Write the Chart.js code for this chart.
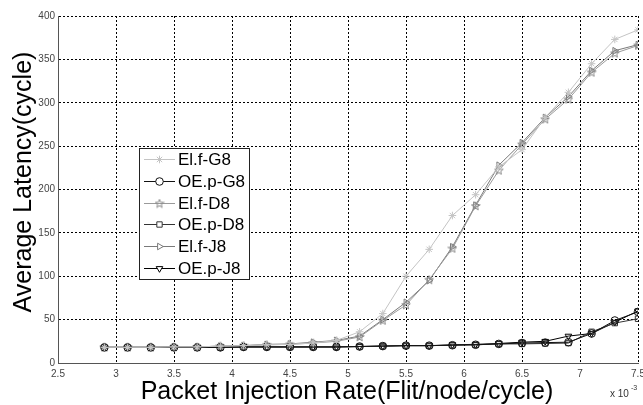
<!DOCTYPE html>
<html>
<head>
<meta charset="utf-8">
<script src="https://cdn.jsdelivr.net/npm/chart.js@4/dist/chart.umd.min.js"></script>
<style>
  html, body { margin: 0; padding: 0; background: #fff; }
  #wrap { width: 643px; height: 405px; position: relative; }
</style>
</head>
<body>
<div id="wrap"><canvas id="latencyChart"></canvas></div>
<script>
// injection rate, in units of 1e-3 flit/node/cycle
const rates = [2.9, 3.1, 3.3, 3.5, 3.7, 3.9, 4.1, 4.3, 4.5, 4.7, 4.9, 5.1,
               5.3, 5.5, 5.7, 5.9, 6.1, 6.3, 6.5, 6.7, 6.9, 7.1, 7.3, 7.5];

const elfG8 = [18, 18, 18, 18.5, 18.5, 19.5, 20, 21, 21.5, 23, 26, 36,
               57, 100, 131, 170, 194, 226, 246, 283, 312, 345, 373, 384];
const oepG8 = [18, 18, 18, 18, 18, 18, 18.5, 18.5, 18.5, 18.5, 18.5, 19,
               19.5, 20, 20, 20.5, 21, 22, 23, 23.5, 24, 34, 49, 59];
const elfD8 = [18, 18, 18, 18.5, 18.5, 19.5, 20, 21, 21.5, 23, 25, 30,
               49, 67, 96, 132, 181, 222, 252, 281, 304, 335, 357, 366];
const oepD8 = [18, 18, 18, 18, 18, 18, 18.5, 18.5, 18.5, 18.5, 18.5, 19,
               19.5, 20, 20, 20.5, 21, 22, 22, 22.5, 23, 36, 46, 51];
const elfJ8 = [18, 18, 18, 18.5, 18.5, 19.5, 20, 21.5, 22, 24, 26, 31,
               50, 70, 95, 134, 182, 228, 254, 283, 307, 337, 360, 367];
const oepJ8 = [18, 18, 18, 18, 18, 18, 18.5, 18.5, 18.5, 18.5, 18.5, 19,
               19.5, 20, 20, 21, 21.5, 22.5, 24, 25, 31, 34, 47, 60];

const seriesNames = ['El.f-G8', 'OE.p-G8', 'El.f-D8', 'OE.p-D8', 'El.f-J8', 'OE.p-J8'];
const xTicks = [2.5, 3, 3.5, 4, 4.5, 5, 5.5, 6, 6.5, 7, 7.5];
const yTicks = [0, 50, 100, 150, 200, 250, 300, 350, 400];
const xTitle = 'Packet Injection Rate(Flit/node/cycle)';
const yTitle = 'Average Latency(cycle)';

const FONT = "'Liberation Sans', Arial, sans-serif";

// pentagram marker (no built-in one in Chart.js)
function makePentagram(color) {
    const c = document.createElement('canvas');
    c.width = 10; c.height = 10;
    const g = c.getContext('2d');
    g.strokeStyle = color;
    g.lineWidth = 1;
    g.beginPath();
    for (let i = 0; i < 10; i++) {
        const r = i % 2 === 0 ? 4.5 : 1.9;
        const a = -Math.PI / 2 + i * Math.PI / 5;
        const px = 5 + r * Math.cos(a), py = 5.3 + r * Math.sin(a);
        if (i === 0) g.moveTo(px, py); else g.lineTo(px, py);
    }
    g.closePath();
    g.stroke();
    return c;
}

function series(label, values, color, style, rotation) {
    return {
        label: label,
        data: rates.map((r, i) => ({ x: r, y: values[i] })),
        borderColor: color,
        backgroundColor: color,
        borderWidth: 1,
        pointStyle: style,
        pointRotation: rotation || 0,
        pointRadius: 3.8,
        pointBorderColor: color,
        pointBackgroundColor: 'rgba(0,0,0,0)',
        pointBorderWidth: 1,
        tension: 0
    };
}

const datasets = [
    series(seriesNames[0], elfG8, '#c4c4c4', 'star'),
    series(seriesNames[1], oepG8, '#111111', 'circle'),
    series(seriesNames[2], elfD8, '#9a9a9a', makePentagram('#8a8a8a')),
    series(seriesNames[3], oepD8, '#333333', 'rect'),
    series(seriesNames[4], elfJ8, '#7a7a7a', 'triangle', 90),
    series(seriesNames[5], oepJ8, '#000000', 'triangle', 180)
];

// legend box inside the plot, axis titles and the exponent note
const boxLegend = {
    id: 'boxLegend',
    afterDraw(chart) {
        const ctx = chart.ctx;
        const left = 139, top = 148, right = 249, bottom = 279;
        ctx.save();
        ctx.fillStyle = '#fff';
        ctx.fillRect(left, top, right - left, bottom - top);
        ctx.strokeStyle = '#222';
        ctx.lineWidth = 1;
        ctx.strokeRect(left + 0.5, top + 0.5, right - left, bottom - top);
        const rowH = (bottom - top) / 6;
        chart.data.datasets.forEach((ds, i) => {
            const cy = Math.round(top + rowH * (i + 0.5)) + 0.5;
            ctx.strokeStyle = ds.borderColor;
            ctx.lineWidth = 1;
            ctx.beginPath();
            ctx.moveTo(144, cy);
            ctx.lineTo(175, cy);
            ctx.stroke();
            if (Chart.helpers && Chart.helpers.drawPoint) {
                ctx.fillStyle = '#fff';
                ctx.strokeStyle = ds.borderColor;
                Chart.helpers.drawPoint(ctx, {
                    pointStyle: ds.pointStyle,
                    rotation: ds.pointRotation,
                    radius: 3.8,
                    borderWidth: 1
                }, 159.5, cy);
            }
            ctx.fillStyle = '#000';
            ctx.font = '17px ' + FONT;
            ctx.textBaseline = 'middle';
            ctx.textAlign = 'left';
            ctx.fillText(ds.label, 178, cy + 1);
        });

        // axis titles
        ctx.fillStyle = '#000';
        ctx.font = '25px ' + FONT;
        ctx.textAlign = 'center';
        ctx.textBaseline = 'alphabetic';
        ctx.fillText(xTitle, 347, 399);
        ctx.save();
        ctx.translate(31, 182);
        ctx.rotate(-Math.PI / 2);
        ctx.fillText(yTitle, 0, 0);
        ctx.restore();

        // exponent note under the x axis
        ctx.textAlign = 'left';
        ctx.fillStyle = '#333';
        ctx.font = '10px ' + FONT;
        ctx.fillText('x 10', 610, 397);
        ctx.font = '7px ' + FONT;
        ctx.fillText('-3', 631, 390);
        ctx.restore();
    }
};

const ctx = document.getElementById('latencyChart');
new Chart(ctx, {
    type: 'line',
    data: { datasets: datasets },
    plugins: [boxLegend],
    options: {
        responsive: true,
        maintainAspectRatio: false,
        animation: false,
        layout: { padding: { top: 16, right: 5, left: 0, bottom: 0 } },
        plugins: {
            legend: { display: false },
            tooltip: { enabled: false }
        },
        scales: {
            x: {
                type: 'linear',
                min: 2.5,
                max: 7.5,
                afterBuildTicks: s => { s.ticks = xTicks.map(v => ({ value: v })); },
                afterFit: s => { s.height = 42; s.paddingLeft = 0; s.paddingRight = 0; },
                ticks: {
                    color: '#444',
                    font: { family: FONT, size: 10 },
                    padding: 5,
                    maxRotation: 0,
                    callback: v => String(v)
                },
                grid: { color: '#000', lineWidth: 1, drawTicks: false },
                border: { display: true, color: '#555', width: 1, dash: [2, 2] }
            },
            y: {
                min: 0,
                max: 400,
                afterBuildTicks: s => { s.ticks = yTicks.map(v => ({ value: v })); },
                afterFit: s => { s.width = 58; s.paddingTop = 0; s.paddingBottom = 0; },
                ticks: {
                    color: '#444',
                    font: { family: FONT, size: 10 },
                    padding: 3
                },
                grid: { color: '#000', lineWidth: 1, drawTicks: false },
                border: { display: true, color: '#555', width: 1, dash: [2, 2] }
            }
        }
    }
});
</script>
</body>
</html>
